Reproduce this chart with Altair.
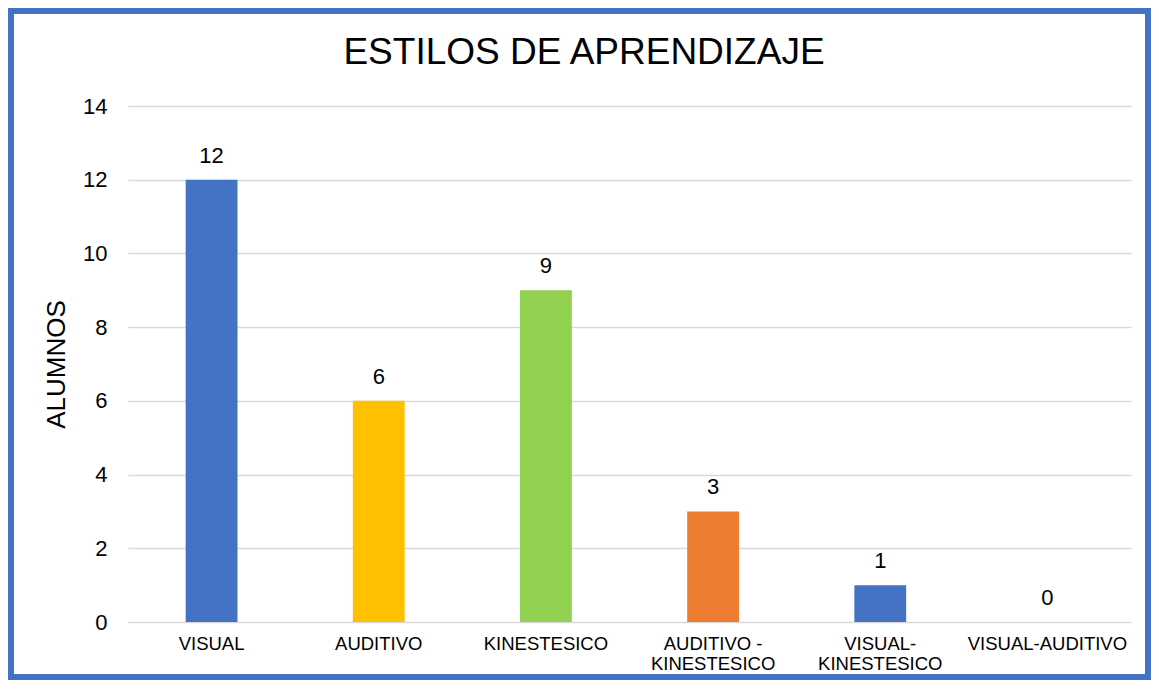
import altair as alt
import pandas as pd

titulo = "ESTILOS DE APRENDIZAJE"
categorias = ["VISUAL", "AUDITIVO", "KINESTESICO", "AUDITIVO -|KINESTESICO",
              "VISUAL-|KINESTESICO", "VISUAL-AUDITIVO"]
alumnos = [12, 6, 9, 3, 1, 0]
colores = ["#4472C4", "#FFC000", "#92D050", "#ED7D31", "#4472C4", "#4472C4"]
ticks_y = [0, 2, 4, 6, 8, 10, 12, 14]

FONT = "Liberation Sans"
W, H = 1003, 516

df = pd.DataFrame({"cat": categorias, "n": alumnos})

x = alt.X("cat:N", sort=categorias,
          scale=alt.Scale(paddingInner=0.69, paddingOuter=0.345),
          axis=alt.Axis(title=None, labelAngle=0,
                        labelExpr="split(datum.label, '|')",
                        labelFontSize=18.5, labelColor="#000000", labelPadding=12,
                        labelLineHeight=20.5, ticks=False, domain=False, grid=False,
                        labelFont=FONT))
y = alt.Y("n:Q", scale=alt.Scale(domain=[0, 14]),
          axis=alt.Axis(values=ticks_y, title="ALUMNOS", titleFontSize=26,
                        titleFontWeight="normal", titleColor="#000000",
                        titleFont=FONT, titlePadding=13,
                        labelFontSize=22, labelColor="#000000", labelPadding=21,
                        labelFont=FONT, ticks=False, domain=False,
                        gridColor="#D9D9D9", gridWidth=1.5))

base = alt.Chart(df)
bars = base.mark_bar().encode(
    x=x, y=y,
    color=alt.Color("cat:N", scale=alt.Scale(domain=categorias, range=colores), legend=None),
)
labels = base.mark_text(dy=-17, baseline="alphabetic", fontSize=22, color="#000000", font=FONT).encode(
    x=alt.X("cat:N", sort=categorias), y="n:Q", text="n:Q"
)

title = alt.Chart(pd.DataFrame({"t": [titulo]})).mark_text(
    fontSize=37, baseline="alphabetic", align="center", color="#000000", font=FONT
).encode(text="t:N", x=alt.value(456), y=alt.value(-42))

border = alt.Chart(pd.DataFrame({"a": [0]})).mark_rect(
    fillOpacity=0, stroke="#4472C4", strokeWidth=6
).encode(x=alt.value(-117), x2=alt.value(1020), y=alt.value(-95), y2=alt.value(571))

chart = alt.layer(bars, labels, title, border).properties(
    width=W, height=H,
    padding={"left": 120, "top": 98, "right": 20, "bottom": 58},
    autosize=alt.AutoSizeParams(type="none"),
).configure(font=FONT).configure_view(stroke=None)

chart.save("out.html", embed_options={"renderer": "svg", "actions": False})
